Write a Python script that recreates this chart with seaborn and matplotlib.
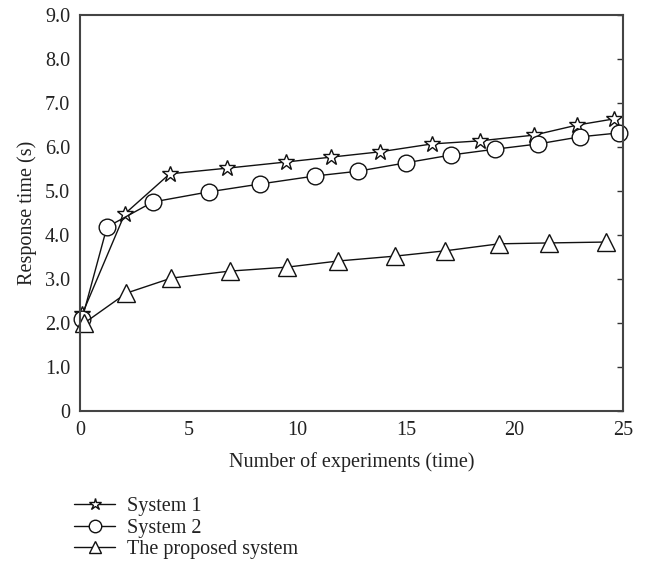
import numpy as np
import pandas as pd
import matplotlib
matplotlib.use("Agg")
import matplotlib.pyplot as plt
import seaborn as sns

# ---------------- data ----------------
sys1_x = [0.1, 2.06, 4.13, 6.79, 9.5, 11.56, 13.8, 16.2, 18.4, 20.9, 22.9, 24.6]
sys1_y = [2.2, 4.48, 5.39, 5.52, 5.66, 5.77, 5.89, 6.07, 6.14, 6.27, 6.5, 6.64]

sys2_x = [0.1, 1.24, 3.35, 5.92, 8.3, 10.8, 12.8, 15.0, 17.1, 19.1, 21.1, 23.0, 24.8]
sys2_y = [2.1, 4.18, 4.75, 4.98, 5.16, 5.34, 5.45, 5.64, 5.82, 5.95, 6.07, 6.23, 6.32]

prop_x = [0.2, 2.14, 4.2, 6.9, 9.54, 11.9, 14.5, 16.8, 19.3, 21.6, 24.2]
prop_y = [2.0, 2.68, 3.02, 3.18, 3.27, 3.41, 3.52, 3.64, 3.8, 3.82, 3.84]

labels = ["System 1", "System 2", "The proposed system"]
markers = ["*", "o", "^"]
msizes = [12, 12, 13]

yticks = [0, 1, 2, 3, 4, 5, 6, 7, 8, 9]
ytick_labels = ["0", "1.0", "2.0", "3.0", "4.0", "5.0", "6.0", "7.0", "8.0", "9.0"]
xticks = [0, 5, 10, 15, 20, 25]

# ---------------- plotting ----------------
sns.set_style("white")
plt.rcParams["font.family"] = ["Liberation Serif", "DejaVu Serif"]

fig = plt.figure(figsize=(6.51, 5.71), dpi=100)
ax = fig.add_axes([0.1229, 0.2802, 0.8341, 0.6935])

series = [(sys1_x, sys1_y), (sys2_x, sys2_y), (prop_x, prop_y)]
for (xs, ys), lab, mk, ms in zip(series, labels, markers, msizes):
    df = pd.DataFrame({"x": xs, "y": ys})
    sns.lineplot(data=df, x="x", y="y", ax=ax, color="#111111", linewidth=1.0,
                 marker=mk, markersize=ms, markerfacecolor="white",
                 markeredgecolor="#111111", markeredgewidth=1.0, label=lab,
                 clip_on=False)

ax.set_xlim(0, 25)
ax.set_ylim(0, 9)
ax.set_xticks(xticks)
ax.set_yticks(yticks)
ax.set_yticklabels(ytick_labels)
ax.tick_params(axis="both", direction="in", length=4, width=1, colors="#333333",
               labelcolor="#222222", labelsize=14.5, pad=7)
ax.tick_params(axis="y", right=True)
for sp in ax.spines.values():
    sp.set_visible(True)
    sp.set_color("#444444")
    sp.set_linewidth(1.5)

ax.set_xlabel("Number of experiments (time)", fontsize=14.5, color="#222222", labelpad=9)
ax.set_ylabel("Response time (s)", fontsize=14.5, color="#222222", labelpad=6)

leg = ax.legend(loc="upper left", bbox_to_anchor=(-0.025, -0.197), frameon=False,
                fontsize=14.5, handlelength=2.0, handletextpad=0.6,
                labelspacing=0.12, borderaxespad=0)
for t in leg.get_texts():
    t.set_color("#222222")
for h in leg.legend_handles:
    h.set_markersize(9)

fig.savefig("out.png", dpi=100)
